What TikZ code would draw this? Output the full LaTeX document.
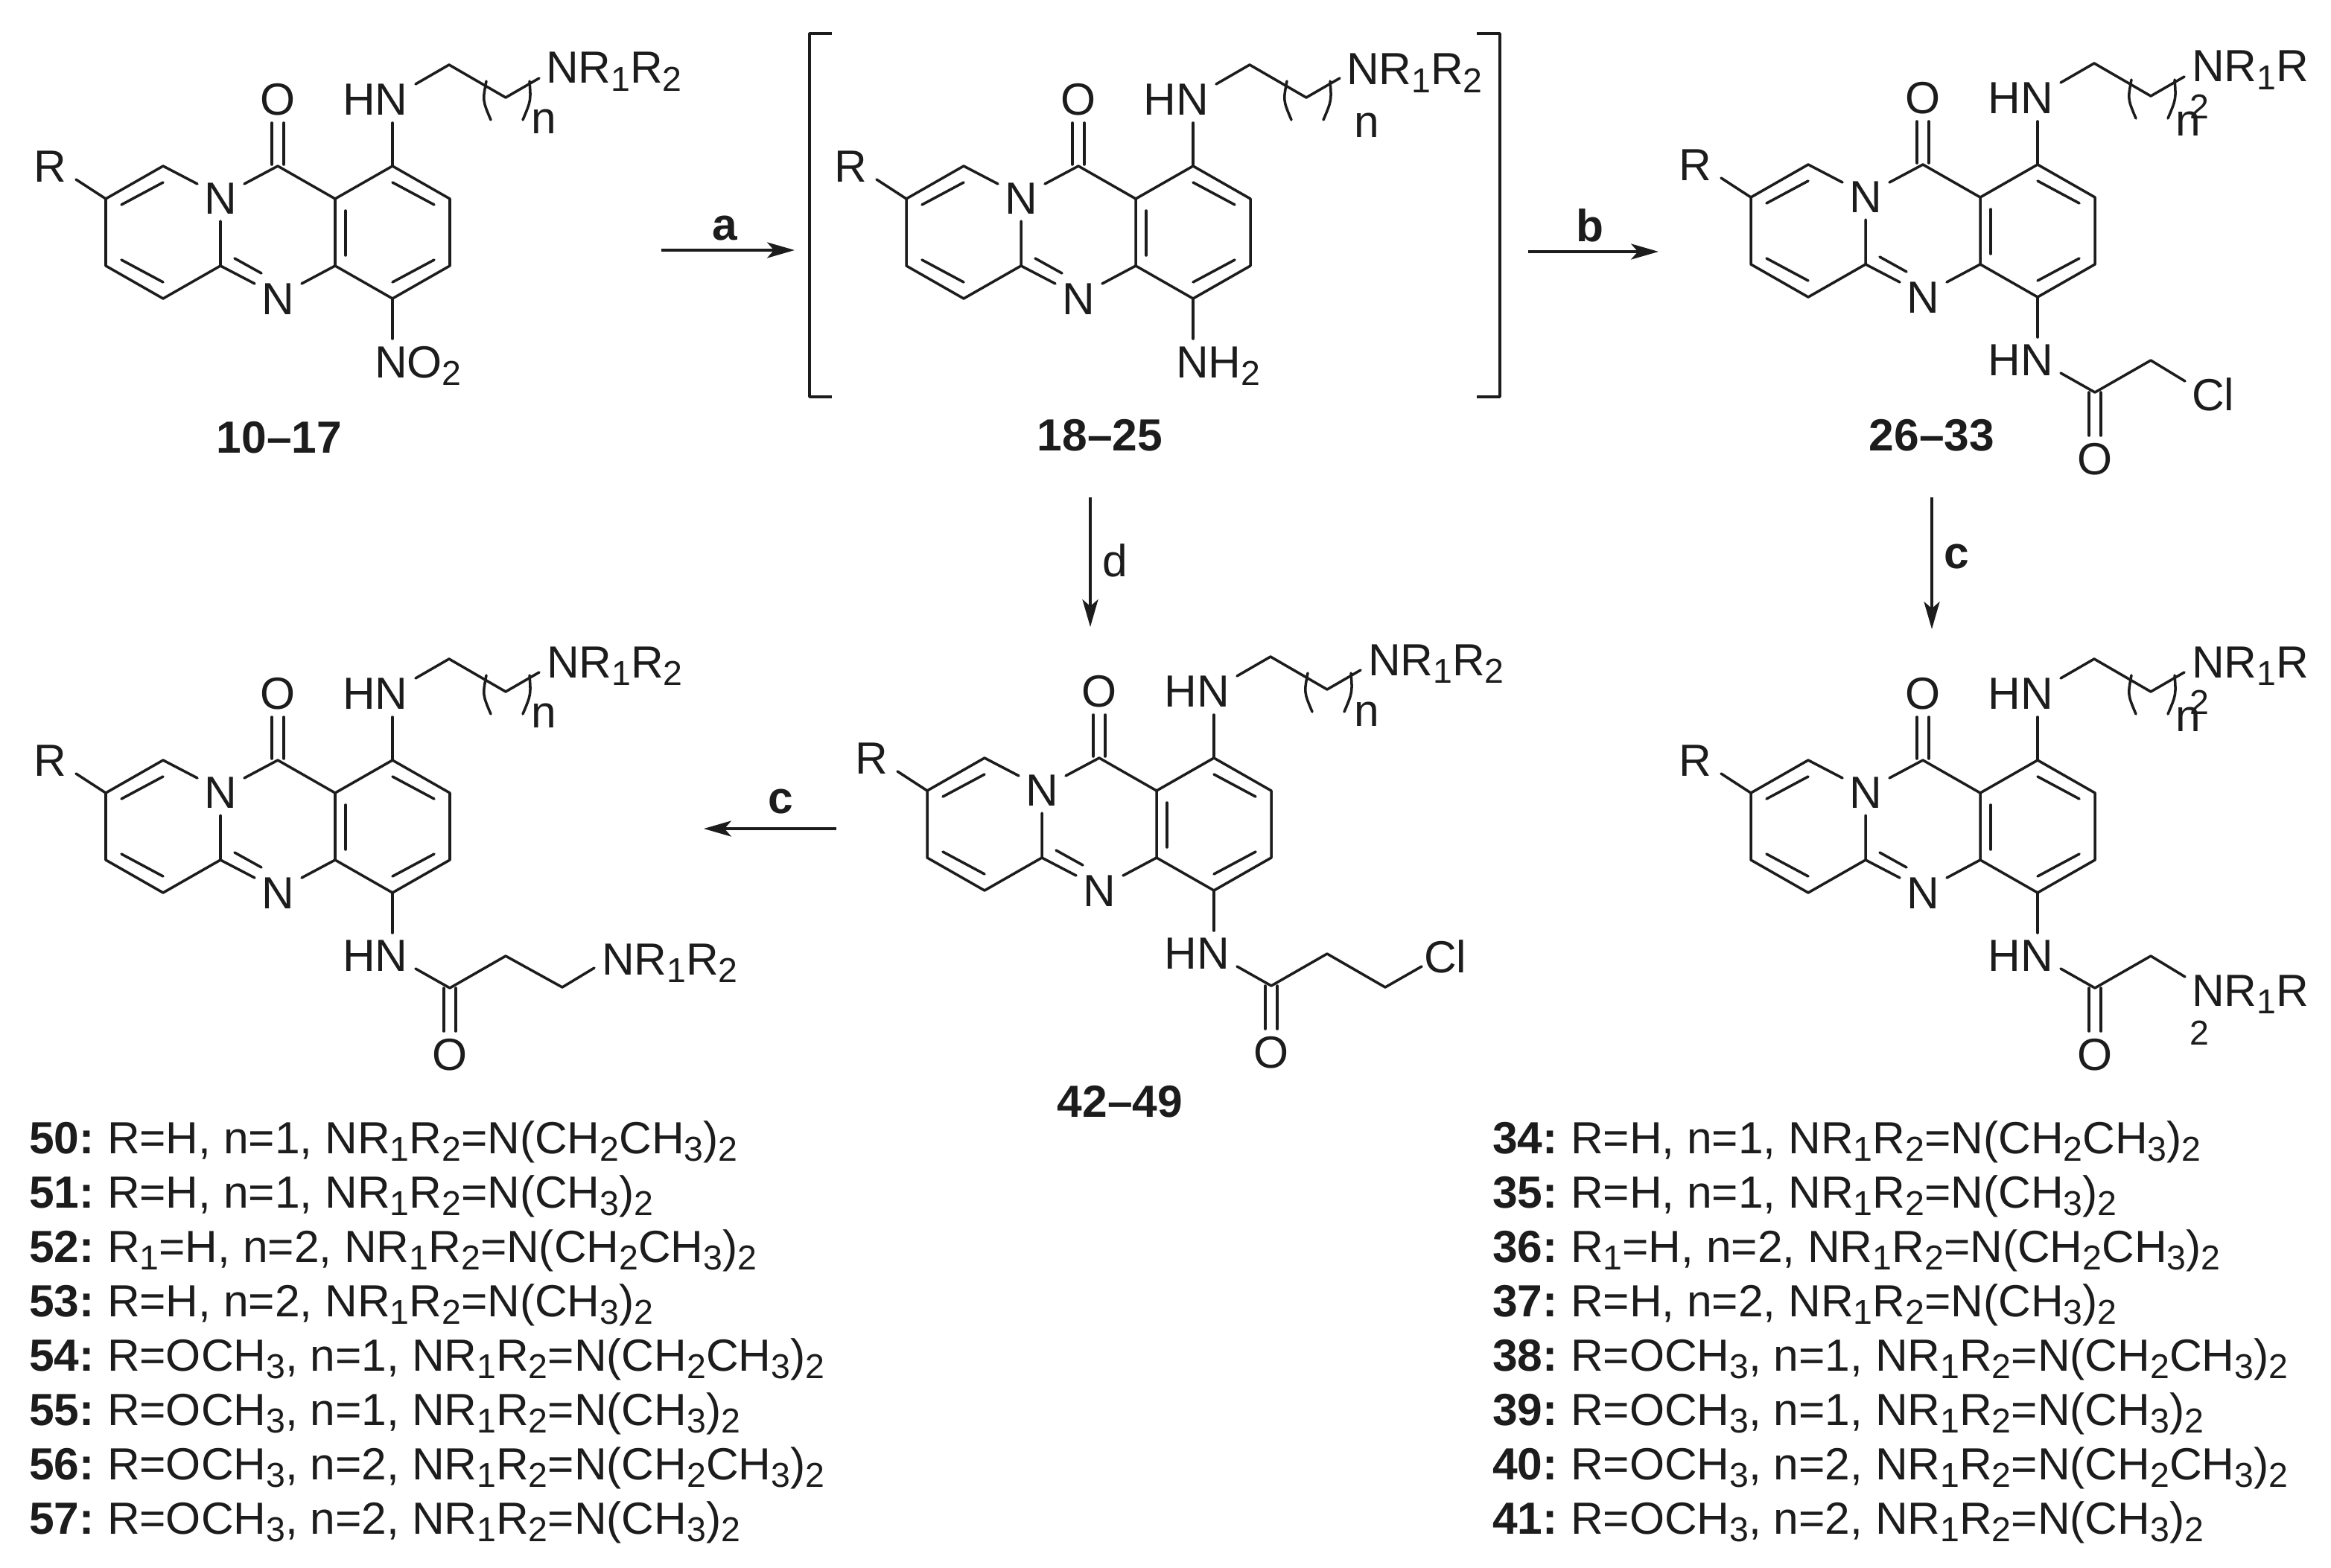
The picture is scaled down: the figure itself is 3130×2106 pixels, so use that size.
\documentclass[tikz,border=0pt]{standalone}
\usepackage{fontspec}
\setmainfont{Liberation Sans}
\usetikzlibrary{arrows.meta}
\definecolor{ink}{HTML}{1C1C1C}
\newcommand{\sbd}[1]{\raisebox{-3.1pt}{\fontsize{13.2}{14}\selectfont #1}}
\newcommand{\NRR}{NR\sbd{1}R\sbd{2}}
\newcommand{\NRo}{NR\sbd{1}R}
\tikzset{
  bond/.style={draw=ink,line width=1pt,line cap=round,line join=round},
  atom/.style={inner sep=0pt,outer sep=0pt,text=ink,font=\fontsize{17.2}{20}\selectfont},
  sub2/.style={inner sep=0pt,outer sep=0pt,text=ink,font=\fontsize{13.2}{14}\selectfont},
  cpd/.style={inner sep=0pt,outer sep=0pt,text=ink,font=\fontsize{17.2}{20}\selectfont\bfseries},
  step arrow/.style={draw=ink,line width=1pt,-{Stealth[length=10.5pt,width=6pt,inset=2.6pt]}},
  listrow/.style={inner sep=0pt,outer sep=0pt,anchor=base west,text=ink,font=\fontsize{17.2}{20}\selectfont}
}
% core: #1 prefix
\newcommand{\core}[1]{%
  \draw[bond] (-108,24) -- (-154,0) -- (-231,44) -- (-231,134) -- (-154,178) -- (-77,134) -- (-77,74);
  \draw[bond] (-45,24) -- (0,0) -- (77,44) -- (154,0) -- (231,44) -- (231,134) -- (154,178) -- (77,134) -- (77,44);
  \draw[bond] (77,134) -- (32,158);
  \draw[bond] (-77,134) -- (-31,158);
  \draw[bond] (-58,124) -- (-22,144);
  \draw[bond] (-210,52) -- (-154,22);
  \draw[bond] (-210,126) -- (-154,156);
  \draw[bond] (154,22) -- (210,52);
  \draw[bond] (154,156) -- (210,126);
  \draw[bond] (91,60) -- (91,120);
  \draw[bond] (-8,-2) -- (-8,-58);
  \draw[bond] (8,-2) -- (8,-58);
  \draw[bond] (154,0) -- (154,-58);
  \draw[bond] (154,178) -- (154,232);
  \draw[bond] (-271,18) -- (-231,44);
  \draw[bond] (185,-110) -- (230,-136) -- (306,-92) -- (351,-118);
  \draw[bond] (280,-114) .. controls (275,-88) .. (286,-62);
  \draw[bond] (338,-114) .. controls (340,-88) .. (329,-62);
  \node[atom] (#1O) at (0,-89) {O};
  \node[atom] (#1NH) at (131,-89) {HN};
  \node[atom] (#1Na) at (-77,44) {N};
  \node[atom] (#1Nb) at (0,179) {N};
  \node[atom] (#1R) at (-306,1) {R};
}
% amide tail common part, #1 prefix
\newcommand{\amide}[1]{%
  \node[atom] (#1NHb) at (131,263) {HN};
  \draw[bond] (185,280) -- (231,306);
  \draw[bond] (223,306) -- (223,364);
  \draw[bond] (239,306) -- (239,364);
  \node[atom] (#1Ob) at (231,396) {O};
  \draw[bond] (231,306) -- (306,263);
}
\begin{document}
\begin{tikzpicture}[x=0.01cm,y=-0.01cm]
\useasboundingbox (0,0) rectangle (3130,2106);
\fill[white] (0,0) rectangle (3130,2106);

% Compound 10-17
\begin{scope}[shift={(373,223)}]
  \core{a}
  \node[atom,anchor=base west] (aNRR) at (360,-111) {\NRR};
  \node[atom] (an) at (357,-60) {n};
  \node[atom,anchor=base west] (aNO) at (130,284) {NO\sbd{2}};
\end{scope}
\node[cpd] (l10) at (375,588) {10–17};

% Compound 18-25
\begin{scope}[shift={(1448,223)}]
  \core{b}
  \node[atom,anchor=base west] (bNRR) at (360,-109) {\NRR};
  \node[atom] (bn) at (387,-55) {n};
  \node[atom,anchor=base west] (bNH2) at (131,284) {NH\sbd{2}};
\end{scope}
\node[cpd] (l18) at (1477,585) {18–25};
\draw[bond,line cap=butt] (1117,45) -- (1087,45) -- (1087,533) -- (1117,533);
\draw[bond,line cap=butt] (1983,45) -- (2014,45) -- (2014,533) -- (1983,533);

% Compound 26-33
\begin{scope}[shift={(2582,221)}]
  \core{c}
  \node[atom,anchor=base west] (cNRR) at (361,-111) {\NRo};
  \node[atom] (cn) at (356,-55) {n};
  \node[sub2] (ctwo) at (371,-78) {2};
  \amide{c}
  \draw[bond] (306,263) -- (352,291);
  \node[atom,anchor=base west] (cCl) at (361,330) {Cl};
\end{scope}
\node[cpd] (l26) at (2594,585) {26–33};

% Compound 34-41
\begin{scope}[shift={(2582,1021)}]
  \core{d}
  \node[atom,anchor=base west] (dNRR) at (361,-111) {\NRo};
  \node[atom] (dn) at (356,-55) {n};
  \node[sub2] (dtwo) at (371,-78) {2};
  \amide{d}
  \draw[bond] (306,263) -- (352,291);
  \node[atom,anchor=base west] (dNRRb) at (361,330) {\NRo};
  \node[sub2] (dtwob) at (371,366) {2};
\end{scope}

% Compound 42-49
\begin{scope}[shift={(1476,1018)}]
  \core{e}
  \node[atom,anchor=base west] (eNRR) at (361,-111) {\NRR};
  \node[atom] (en) at (359,-59) {n};
  \amide{e}
  \draw[bond] (306,263) -- (384,308) -- (433,280);
  \node[atom,anchor=base west] (eCl) at (436,288) {Cl};
\end{scope}
\node[cpd] (l42) at (1504,1480) {42–49};

% Compound 50-57
\begin{scope}[shift={(373,1021)}]
  \core{f}
  \node[atom,anchor=base west] (fNRR) at (361,-111) {\NRR};
  \node[atom] (fn) at (357,-60) {n};
  \amide{f}
  \draw[bond] (306,263) -- (382,305) -- (425,279);
  \node[atom,anchor=base west] (fNRRb) at (435,288) {\NRR};
\end{scope}

% Reaction arrows
\coordinate (a1) at (888,336);  \coordinate (a2) at (1067,336);
\coordinate (b1) at (2052,338); \coordinate (b2) at (2227,338);
\coordinate (c1) at (2594,668); \coordinate (c2) at (2594,845);
\coordinate (d1) at (1464,668); \coordinate (d2) at (1464,842);
\coordinate (e1) at (1123,1113); \coordinate (e2) at (945,1113);
\draw[step arrow] (a1) -- (a2);
\draw[step arrow] (b1) -- (b2);
\draw[step arrow] (c1) -- (c2);
\draw[step arrow] (d1) -- (d2);
\draw[step arrow] (e1) -- (e2);
\node[cpd] (la) at (973,307) {a};
\node[cpd] (lb) at (2135,303) {b};
\node[cpd] (lc) at (2627,748) {c};
\node[atom] (ld) at (1497,753) {d};
\node[cpd] (lc2) at (1048,1077) {c};

% Lists
\newcommand{\row}[5]{%
  \node[listrow] (n#3) at (#1,#2) {\bfseries #3:};
  \node[listrow] (t#3) at (#1+105,#2) {#4, \NRR=N(#5)\sbd{2}};
}
\newcommand{\etil}{CH\sbd{2}CH\sbd{3}}
\newcommand{\met}{CH\sbd{3}}
\newcommand{\ome}{OCH\sbd{3}}
\row{39}{1549}{50}{R=H, n=1}{\etil}
\row{39}{1622}{51}{R=H, n=1}{\met}
\row{39}{1695}{52}{R\sbd{1}=H, n=2}{\etil}
\row{39}{1768}{53}{R=H, n=2}{\met}
\row{39}{1841}{54}{R=\ome, n=1}{\etil}
\row{39}{1914}{55}{R=\ome, n=1}{\met}
\row{39}{1987}{56}{R=\ome, n=2}{\etil}
\row{39}{2060}{57}{R=\ome, n=2}{\met}
\row{2004}{1549}{34}{R=H, n=1}{\etil}
\row{2004}{1622}{35}{R=H, n=1}{\met}
\row{2004}{1695}{36}{R\sbd{1}=H, n=2}{\etil}
\row{2004}{1768}{37}{R=H, n=2}{\met}
\row{2004}{1841}{38}{R=\ome, n=1}{\etil}
\row{2004}{1914}{39}{R=\ome, n=1}{\met}
\row{2004}{1987}{40}{R=\ome, n=2}{\etil}
\row{2004}{2060}{41}{R=\ome, n=2}{\met}
\end{tikzpicture}
\end{document}
